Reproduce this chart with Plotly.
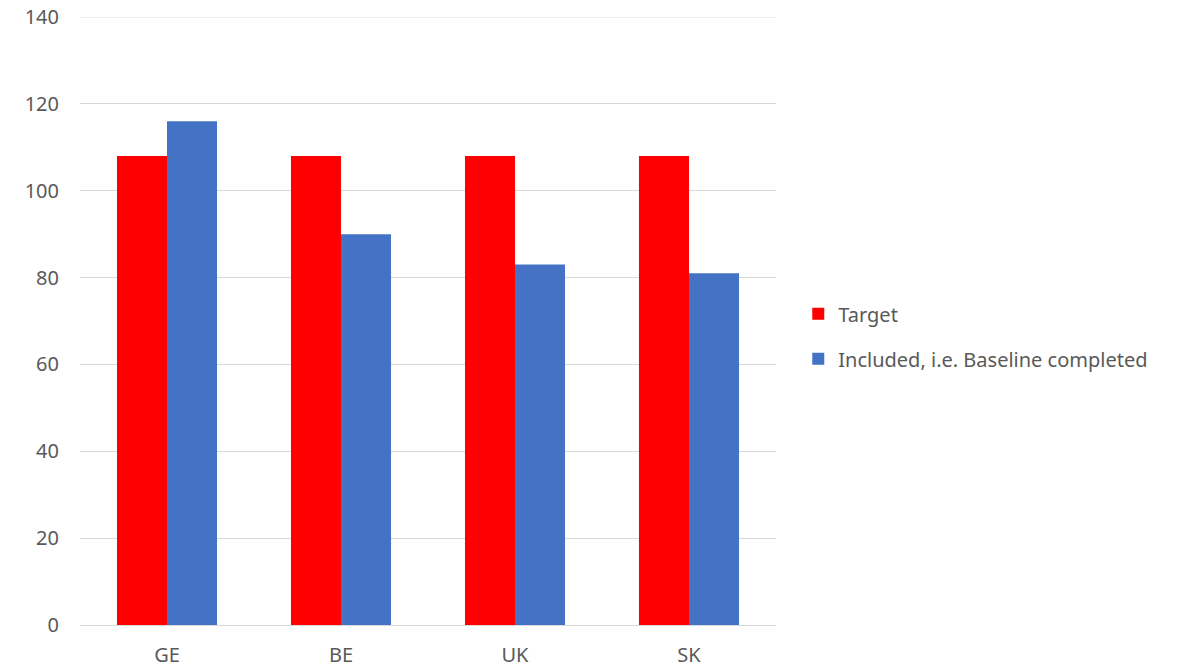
import plotly.graph_objects as go

categories = ["GE", "BE", "UK", "SK"]
target = [108, 108, 108, 108]
included = [116, 90, 83, 81]
series_names = ["Target", "Included, i.e. Baseline completed"]
y_ticks = [0, 20, 40, 60, 80, 100, 120, 140]

font = dict(family="Noto Sans, Open Sans, sans-serif", size=20, color="#595959")

fig = go.Figure()
fig.add_trace(go.Bar(x=categories, y=target, name=series_names[0],
                     marker=dict(color="#FF0000", line=dict(width=0)),
                     legendgroup="a"))
fig.add_trace(go.Bar(x=categories, y=included, name=series_names[1],
                     marker=dict(color="#4472C4", line=dict(width=0)),
                     legendgroup="b"))

fig.add_hline(y=y_ticks[-1], line=dict(color="#d9d9d9", width=1), layer="below")

fig.update_layout(
    width=1177, height=668,
    margin=dict(l=80, r=401, t=17, b=43, autoexpand=False),
    paper_bgcolor="white", plot_bgcolor="white",
    font=font,
    barmode="group", bargap=0.425, bargroupgap=0,
    legend=dict(x=1.032, y=0.475, xanchor="left", yanchor="middle",
                traceorder="grouped", tracegroupgap=16,
                font=font, itemwidth=30),
    xaxis=dict(showline=True, linecolor="#d9d9d9", linewidth=1,
               ticks="", showgrid=False, tickfont=font, ticklabelstandoff=12),
    yaxis=dict(range=[0, 140], tickvals=y_ticks, showgrid=True,
               gridcolor="#d9d9d9", gridwidth=1, zeroline=False,
               showline=False, ticks="", tickfont=font, ticklabelstandoff=20),
)

fig.write_html("out.html", config={"displayModeBar": False},
               post_script="document.body.style.margin='0';")
